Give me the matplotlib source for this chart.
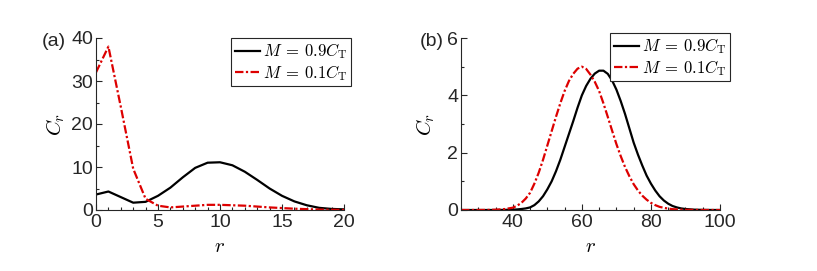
import matplotlib
matplotlib.use("Agg")
import matplotlib.pyplot as plt
from matplotlib.ticker import MultipleLocator

plt.rcParams['font.family'] = ['Liberation Sans', 'DejaVu Sans']
plt.rcParams['mathtext.fontset'] = 'cm'

# panel (a)
r_a = [0, 1, 2, 3, 4, 5, 6, 7, 8, 9, 10, 11, 12, 13, 14, 15, 16, 17, 18, 19, 20]
a_09 = [3.6, 4.3, 3.0, 1.7, 1.9, 3.3, 5.2, 7.6, 9.8, 11.0, 11.1, 10.4, 8.9, 7.0, 5.0, 3.3, 2.0, 1.1, 0.5, 0.25, 0.15]
a_01 = [32, 38, 24, 9.6, 2.6, 1.0, 0.6, 0.8, 1.0, 1.2, 1.2, 1.1, 1.0, 0.8, 0.6, 0.45, 0.3, 0.2, 0.1, 0.05, 0.02]

# panel (b)
r_b = [25, 27.5, 30, 32.5, 35, 37.5,
       40, 41.25, 42.5, 43.75, 45, 46.25, 47.5, 48.75, 50, 51.25, 52.5, 53.75, 55, 56.25,
       57.5, 58.75, 60, 61.25, 62.5, 63.75, 65, 66.25, 67.5, 68.75, 70, 71.25, 72.5, 73.75,
       75, 76.25, 77.5, 78.75, 80, 81.25, 82.5, 83.75, 85, 86.25, 87.5, 88.75, 90,
       92.5, 95, 97.5, 100]
b_09 = [0, 0, 0, 0, 0.001, 0.004,
        0.012, 0.02, 0.035, 0.055, 0.09, 0.17, 0.3, 0.48, 0.72, 1.0, 1.35, 1.75, 2.2, 2.65,
        3.1, 3.57, 4.0, 4.33, 4.58, 4.76, 4.86, 4.86, 4.75, 4.52, 4.2, 3.8, 3.35, 2.85,
        2.35, 1.93, 1.55, 1.2, 0.92, 0.68, 0.48, 0.33, 0.22, 0.14, 0.09, 0.055, 0.035,
        0.012, 0.004, 0.001, 0]
b_01 = [0, 0, 0.001, 0.003, 0.01, 0.03,
        0.08, 0.15, 0.25, 0.4, 0.6, 0.92, 1.3, 1.75, 2.25, 2.75, 3.25, 3.72, 4.15, 4.5,
        4.75, 4.93, 5.0, 4.92, 4.72, 4.47, 4.15, 3.72, 3.25, 2.77, 2.3, 1.88, 1.5, 1.18,
        0.9, 0.68, 0.5, 0.36, 0.25, 0.17, 0.11, 0.075, 0.05, 0.03, 0.02, 0.012, 0.008,
        0.003, 0.001, 0, 0]

labels = [r'$M\:=\:0.9C_{\rm T}$', r'$M\:=\:0.1C_{\rm T}$']
red = '#dd0000'
gray = '#262626'
dd = (3.8, 1.1, 1.0, 1.1)

fig = plt.figure(figsize=(8.17, 2.71), dpi=100)
ax1 = fig.add_axes([96/817, 61/271, 248/817, 172/271])
ax2 = fig.add_axes([461/817, 61/271, 259/817, 172/271])


def style(ax, ypad):
    for s in ['top', 'right']:
        ax.spines[s].set_visible(False)
    for s in ['left', 'bottom']:
        ax.spines[s].set_color(gray)
        ax.spines[s].set_linewidth(0.8)
    ax.tick_params(which='both', direction='in', colors=gray, labelsize=14, width=0.8)
    ax.tick_params(which='major', length=4, pad=3)
    ax.tick_params(which='minor', length=2.5)
    ax.tick_params(axis='y', pad=2)
    ax.set_xlabel('$r$', fontsize=15, labelpad=4)
    ax.set_ylabel('$C_r$', fontsize=15, labelpad=ypad)


ax1.plot(r_a, a_09, color='black', lw=1.6, label=labels[0])
ax1.plot(r_a, a_01, color=red, lw=1.6, dashes=dd, label=labels[1])
ax1.set_xlim(0, 20)
ax1.set_ylim(0, 40)
ax1.xaxis.set_major_locator(MultipleLocator(5))
ax1.xaxis.set_minor_locator(MultipleLocator(1))
ax1.yaxis.set_major_locator(MultipleLocator(10))
ax1.yaxis.set_minor_locator(MultipleLocator(5))
style(ax1, 3)

ax2.plot(r_b, b_09, color='black', lw=1.6, label=labels[0])
ax2.plot(r_b, b_01, color=red, lw=1.6, dashes=dd, label=labels[1])
ax2.set_xlim(25, 100)
ax2.set_ylim(0, 6)
ax2.xaxis.set_major_locator(MultipleLocator(20))
ax2.xaxis.set_minor_locator(MultipleLocator(5))
ax2.yaxis.set_major_locator(MultipleLocator(2))
ax2.yaxis.set_minor_locator(MultipleLocator(1))
style(ax2, 7)

for ax, anchor in [(ax1, (351/817, 1 - 38/271)), (ax2, (730/817, 1 - 33/271))]:
    leg = ax.legend(loc='upper right', bbox_to_anchor=anchor, bbox_transform=fig.transFigure,
                    fontsize=12, fancybox=False, framealpha=1, edgecolor=gray,
                    handlelength=1.5, handletextpad=0.2, borderpad=0.2, labelspacing=0.1,
                    borderaxespad=0)
    leg.get_frame().set_linewidth(0.8)

fig.text(42/817, 1 - 41/271, '(a)', fontsize=14, color=gray, ha='left', va='center')
fig.text(420/817, 1 - 41/271, '(b)', fontsize=14, color=gray, ha='left', va='center')

fig.savefig('out.png', dpi=100)
